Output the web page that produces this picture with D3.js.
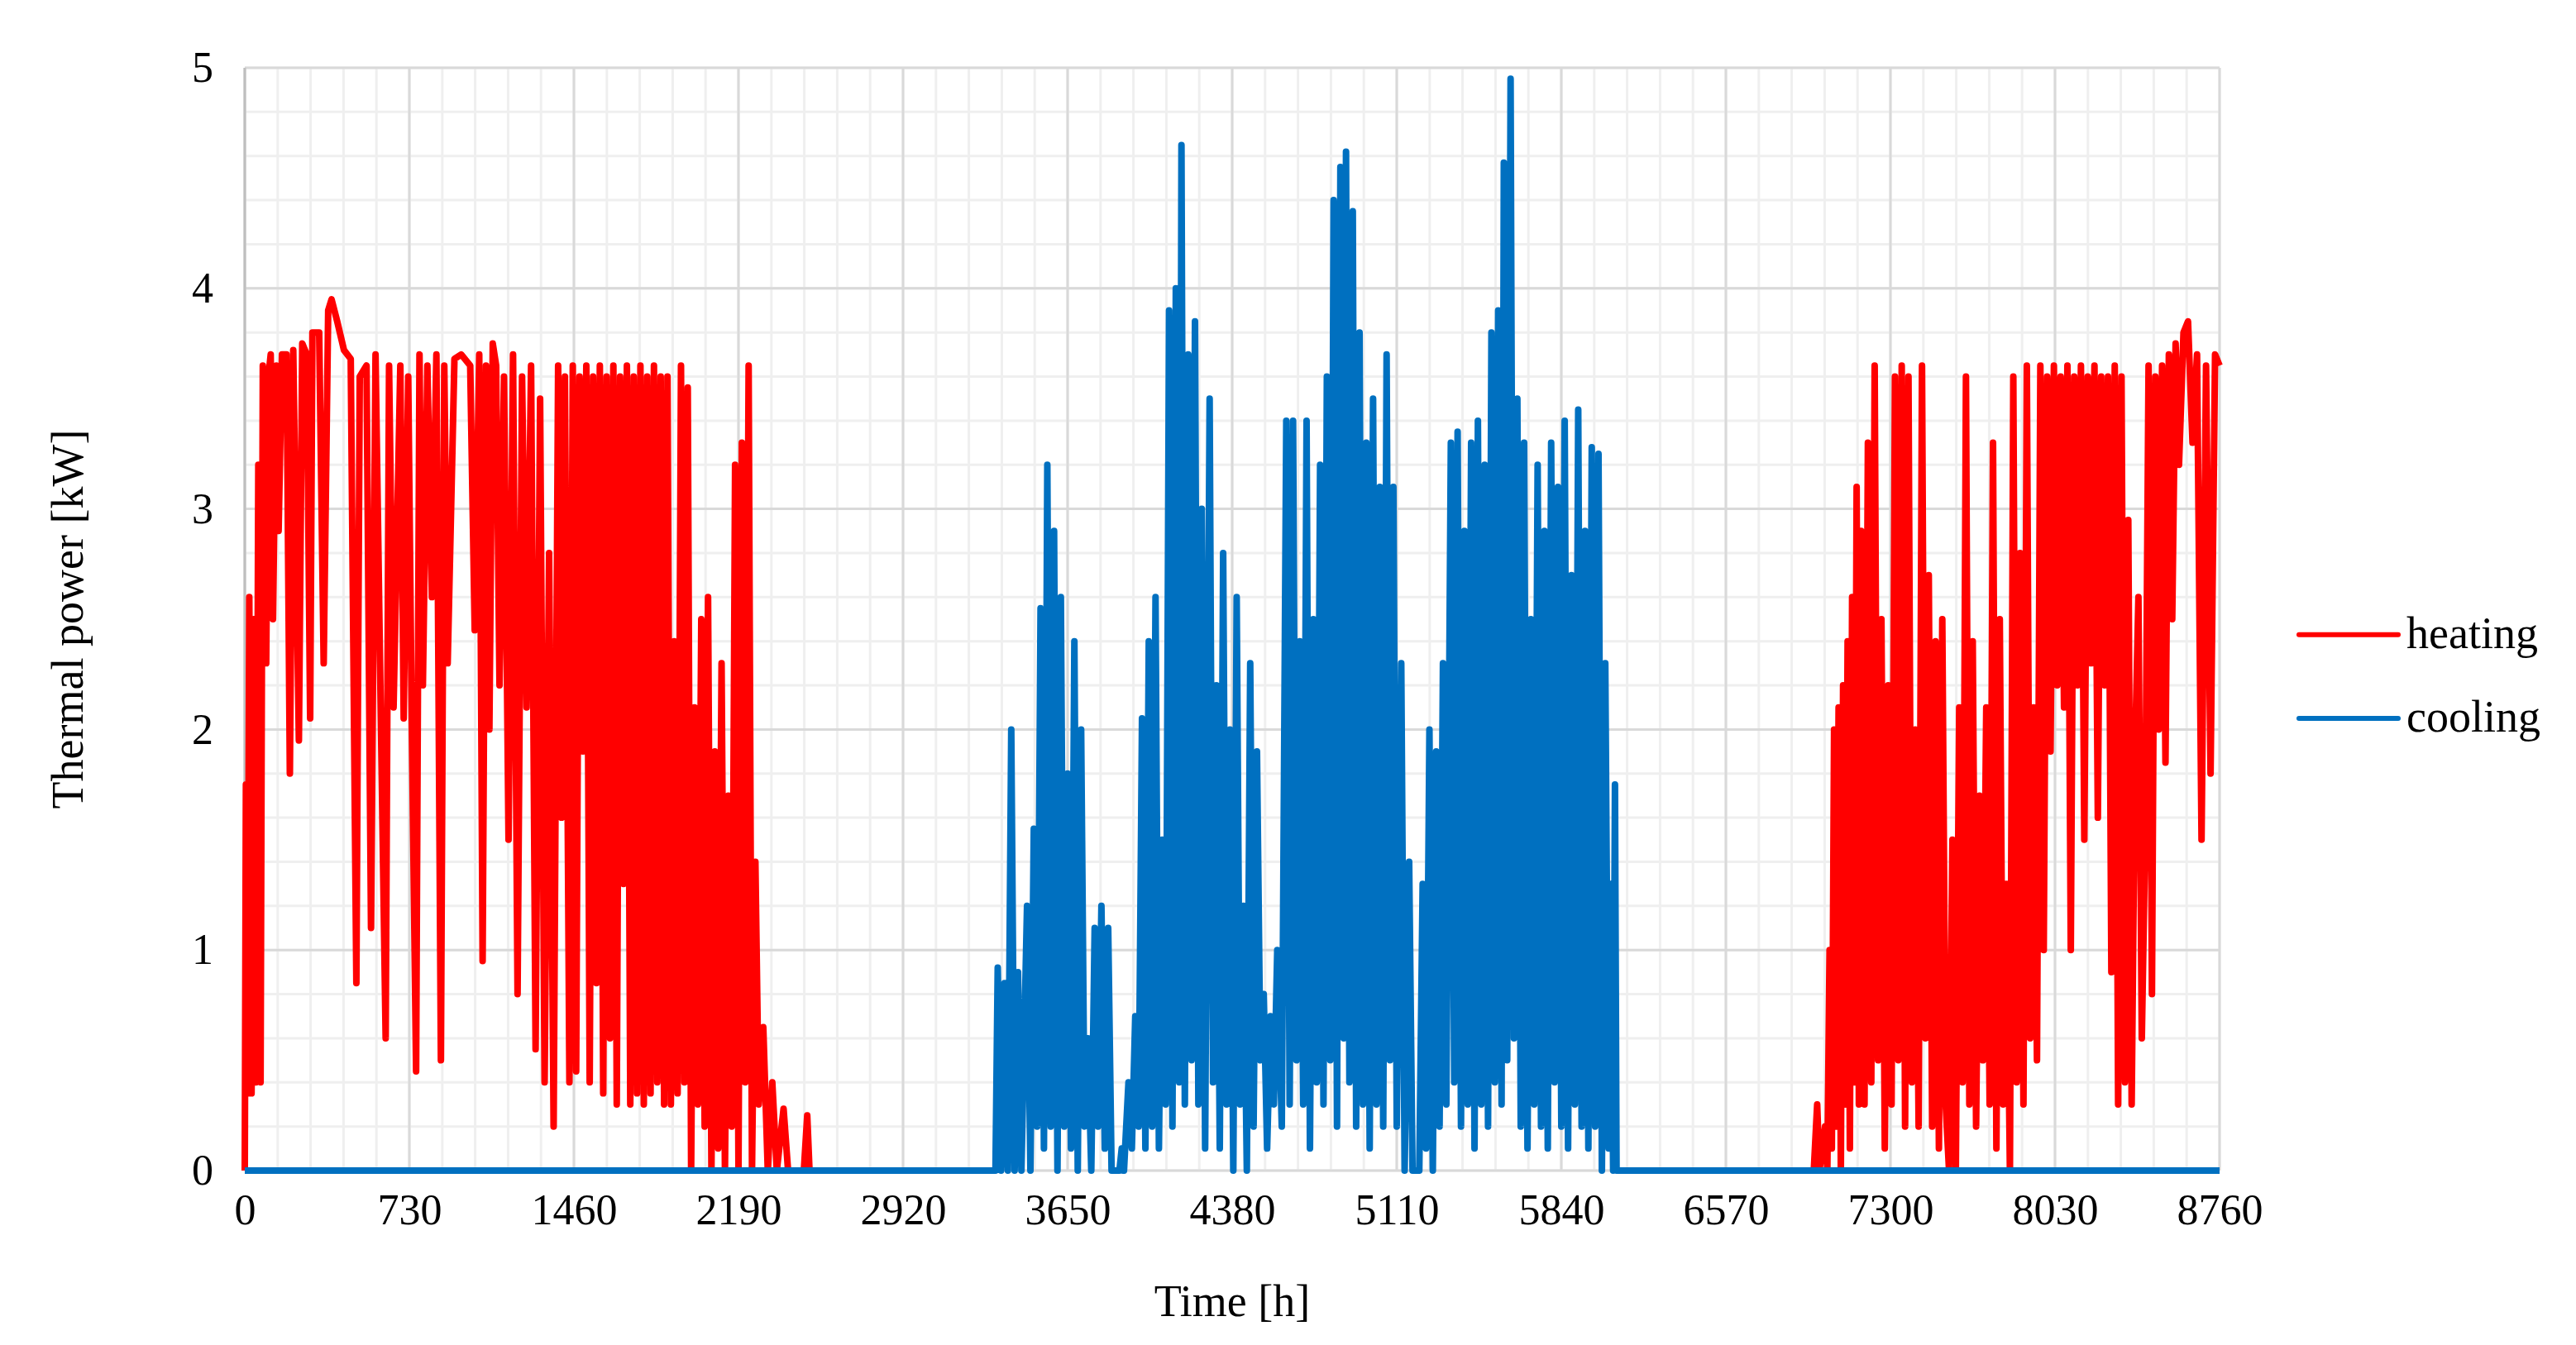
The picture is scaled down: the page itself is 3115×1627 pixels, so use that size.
<!DOCTYPE html>
<html><head><meta charset="utf-8">
<script src="https://cdn.jsdelivr.net/npm/d3@7"></script>
<style>body{margin:0;background:#fff}text{font-family:"Liberation Serif","Times New Roman",serif}</style>
</head><body><div class="chart"></div>
<script>
// [hour, kW] pairs
const heatingEarly = [[0,0],[5,1.75],[12,0.35],[20,2.6],[30,0.35],[40,2.5],[50,0.4],[60,3.2],[70,0.4],[80,3.65],[95,2.3],[105,3.6],[115,3.7],[125,2.5],[140,3.65],[150,2.9],[165,3.7],[185,3.7],[200,1.8],[215,3.72],[240,1.95],[255,3.75],[275,3.7],[290,2.05],[300,3.8],[330,3.8],[350,2.3],[370,3.9],[385,3.95],[410,3.85],[440,3.72],[470,3.68],[495,0.85],[510,3.6],[540,3.65],[560,1.1],[580,3.7],[600,2.3],[625,0.6],[640,3.65],[660,2.1],[690,3.65],[705,2.05],[725,3.6],[740,2.1],[760,0.45],[775,3.7],[790,2.2],[810,3.65],[830,2.6],[850,3.7],[870,0.5],[885,3.65],[900,2.3],[930,3.68],[960,3.7],[1000,3.65],[1020,2.45],[1040,3.7],[1055,0.95],[1070,3.65],[1085,2.0],[1100,3.75],[1115,3.65],[1130,2.2],[1150,3.6],[1170,1.5],[1190,3.7],[1210,0.8],[1230,3.6],[1250,2.1],[1270,3.65],[1290,0.55],[1310,3.5],[1330,0.4],[1350,2.8],[1370,0.2],[1390,3.65],[1405,1.6],[1420,3.6],[1440,0.4],[1455,3.65],[1470,0.45],[1485,3.6],[1500,1.9],[1515,3.65],[1530,0.4],[1545,3.6],[1560,0.85],[1575,3.65],[1590,0.35],[1605,3.6],[1620,0.6],[1635,3.65],[1650,0.3],[1665,3.6],[1680,1.3],[1695,3.65],[1710,0.3],[1725,3.6],[1740,0.35],[1755,3.65],[1770,0.3],[1785,3.6],[1800,0.35],[1815,3.65],[1830,0.4],[1845,3.6],[1860,0.3],[1875,3.6],[1890,0.3],[1905,2.4],[1920,0.35],[1935,3.65],[1950,0.4],[1965,3.55],[1980,0],[1995,2.1],[2010,0.3],[2025,2.5],[2040,0.2],[2055,2.6],[2070,0],[2085,1.9],[2100,0.1],[2115,2.3],[2130,0],[2145,1.7],[2160,0.2],[2175,3.2],[2190,0],[2205,3.3],[2220,0.4],[2235,3.65],[2250,0],[2265,1.4],[2280,0.3],[2300,0.65],[2320,0],[2340,0.4],[2360,0],[2390,0.28],[2410,0],[2480,0],[2495,0.25],[2505,0]];

const heatingLate = [[6960,0],[6975,0.3],[6985,0],[7010,0.2],[7020,0],[7030,1.0],[7040,0.1],[7050,2.0],[7060,0.2],[7070,2.1],[7080,0],[7090,2.2],[7100,0.3],[7110,2.4],[7120,0.1],[7130,2.6],[7140,0.4],[7150,3.1],[7160,0.3],[7170,2.9],[7185,0.3],[7200,3.3],[7215,0.4],[7230,3.65],[7245,0.5],[7260,2.5],[7275,0.1],[7290,2.2],[7305,0.3],[7320,3.6],[7335,0.5],[7350,3.65],[7365,0.2],[7380,3.6],[7395,0.4],[7410,2.0],[7425,0.2],[7440,3.65],[7455,0.6],[7470,2.7],[7485,0.2],[7500,2.4],[7515,0.1],[7530,2.5],[7545,0.3],[7560,0],[7575,1.5],[7590,0],[7605,2.1],[7620,0.4],[7635,3.6],[7650,0.3],[7665,2.4],[7680,0.2],[7695,1.7],[7710,0.5],[7725,2.1],[7740,0.3],[7755,3.3],[7770,0.1],[7785,2.5],[7800,0.3],[7815,1.3],[7830,0],[7845,3.6],[7860,0.4],[7875,2.8],[7890,0.3],[7905,3.65],[7920,0.6],[7935,2.1],[7950,0.5],[7965,3.65],[7980,1.0],[7995,3.6],[8010,1.9],[8025,3.65],[8040,2.2],[8055,3.6],[8070,2.1],[8085,3.65],[8100,1.0],[8115,3.6],[8130,2.2],[8145,3.65],[8160,1.5],[8175,3.6],[8190,2.3],[8205,3.65],[8220,1.6],[8235,3.6],[8250,2.2],[8265,3.6],[8280,0.9],[8295,3.65],[8310,0.3],[8325,3.6],[8340,0.4],[8355,2.95],[8370,0.3],[8385,1.9],[8400,2.6],[8415,0.6],[8430,1.5],[8445,3.65],[8460,0.8],[8475,3.6],[8490,2.0],[8505,3.65],[8520,1.85],[8535,3.7],[8550,2.5],[8565,3.75],[8580,3.2],[8600,3.8],[8620,3.85],[8640,3.3],[8660,3.7],[8680,1.5],[8700,3.65],[8720,1.8],[8740,3.7],[8760,3.65]];

const cooling = [[0,0],[3330,0],[3340,0.92],[3355,0],[3370,0.85],[3385,0],[3400,2.0],[3415,0],[3430,0.9],[3445,0],[3470,1.2],[3485,0],[3500,1.55],[3515,0.2],[3530,2.55],[3545,0.1],[3560,3.2],[3575,0.2],[3590,2.9],[3605,0],[3620,2.6],[3635,0.2],[3650,1.8],[3665,0.1],[3680,2.4],[3695,0],[3710,2.0],[3725,0.2],[3740,0.6],[3755,0],[3770,1.1],[3785,0.2],[3800,1.2],[3815,0.1],[3830,1.1],[3845,0],[3880,0],[3890,0.1],[3900,0],[3920,0.4],[3935,0.1],[3950,0.7],[3965,0.2],[3980,2.05],[3995,0.1],[4010,2.4],[4025,0.2],[4040,2.6],[4055,0.1],[4070,1.5],[4085,0.3],[4100,3.9],[4115,0.2],[4130,4.0],[4145,0.4],[4155,4.65],[4170,0.3],[4185,3.7],[4200,0.5],[4215,3.85],[4230,0.3],[4245,3.0],[4260,0.1],[4280,3.5],[4295,0.4],[4310,2.2],[4325,0.1],[4340,2.8],[4355,0.3],[4370,2.0],[4385,0],[4400,2.6],[4415,0.3],[4430,1.2],[4445,0],[4460,2.3],[4475,0.2],[4490,1.9],[4505,0.5],[4520,0.8],[4535,0.1],[4550,0.7],[4565,0.3],[4580,1.0],[4600,0.2],[4620,3.4],[4635,0.3],[4650,3.4],[4665,0.5],[4680,2.4],[4695,0.3],[4710,3.4],[4725,0.1],[4740,2.5],[4755,0.4],[4770,3.2],[4785,0.3],[4800,3.6],[4815,0.5],[4830,4.4],[4845,0.2],[4860,4.55],[4875,0.6],[4885,4.62],[4900,0.4],[4915,4.35],[4930,0.2],[4945,3.8],[4960,0.3],[4975,3.3],[4990,0.1],[5005,3.5],[5020,0.3],[5035,3.1],[5050,0.2],[5065,3.7],[5080,0.5],[5095,3.1],[5110,0.2],[5130,2.3],[5145,0],[5165,1.4],[5180,0],[5210,0],[5225,1.3],[5240,0.1],[5255,2.0],[5270,0],[5285,1.9],[5300,0.2],[5315,2.3],[5330,0.3],[5350,3.3],[5365,0.4],[5380,3.35],[5395,0.2],[5410,2.9],[5425,0.3],[5440,3.3],[5455,0.1],[5470,3.4],[5485,0.3],[5500,3.2],[5515,0.2],[5530,3.8],[5545,0.4],[5560,3.9],[5575,0.3],[5585,4.57],[5600,0.5],[5615,4.95],[5630,0.6],[5645,3.5],[5660,0.2],[5675,3.3],[5690,0.1],[5705,2.5],[5720,0.3],[5735,3.2],[5750,0.2],[5765,2.9],[5780,0.1],[5795,3.3],[5810,0.4],[5825,3.1],[5840,0.2],[5855,3.4],[5870,0.1],[5885,2.7],[5900,0.3],[5915,3.45],[5930,0.2],[5945,2.9],[5960,0.1],[5975,3.28],[5990,0.2],[6005,3.25],[6020,0],[6035,2.3],[6050,0.1],[6060,1.3],[6070,0],[6078,1.75],[6085,0],[8760,0]];

const xTicks = [0,730,1460,2190,2920,3650,4380,5110,5840,6570,7300,8030,8760];
const yTicks = [0,1,2,3,4,5];

const W = 3115, H = 1627;
const margin = {top: 82, right: 415, bottom: 211, left: 296};
const width = W - margin.left - margin.right - 16, height = H - margin.top - margin.bottom;

const svg = d3.select(".chart").append("svg").attr("width", W).attr("height", H)
  .append("g").attr("transform", "translate(" + margin.left + "," + margin.top + ")");

const x = d3.scaleLinear().domain([0, 8760]).range([0, width]);
const y = d3.scaleLinear().domain([0, 5]).range([height, 0]);

// minor grid
svg.append("g").selectAll("line").data(d3.range(0, 8760.1, 146)).join("line")
  .attr("x1", d => x(d)).attr("x2", d => x(d)).attr("y1", 0).attr("y2", height)
  .attr("stroke", "#efefef").attr("stroke-width", 3);
svg.append("g").selectAll("line").data(d3.range(0, 5.01, 0.2)).join("line")
  .attr("y1", d => y(d)).attr("y2", d => y(d)).attr("x1", 0).attr("x2", width)
  .attr("stroke", "#efefef").attr("stroke-width", 3);
// major grid
svg.append("g").selectAll("line").data(xTicks).join("line")
  .attr("x1", d => x(d)).attr("x2", d => x(d)).attr("y1", 0).attr("y2", height)
  .attr("stroke", "#d9d9d9").attr("stroke-width", 3);
svg.append("g").selectAll("line").data(yTicks).join("line")
  .attr("y1", d => y(d)).attr("y2", d => y(d)).attr("x1", 0).attr("x2", width)
  .attr("stroke", "#d9d9d9").attr("stroke-width", 3);
svg.append("line").attr("x1", 0).attr("x2", 0).attr("y1", 0).attr("y2", height)
  .attr("stroke", "#bfbfbf").attr("stroke-width", 3);

const xAxis = d3.axisBottom(x).tickValues(xTicks).tickFormat(d3.format("d")).tickSize(0).tickPadding(26);
const yAxis = d3.axisLeft(y).tickValues(yTicks).tickFormat(d3.format("d")).tickSize(0).tickPadding(38);
svg.append("g").attr("transform", "translate(0," + height + ")").call(xAxis)
  .call(g => g.select(".domain").remove())
  .selectAll("text").attr("font-size", 52).attr("fill", "#000").attr("dy", "0.75em");
svg.append("g").call(yAxis).call(g => g.select(".domain").remove())
  .selectAll("text").attr("font-size", 52).attr("fill", "#000");

const line = d3.line().x(d => x(d[0])).y(d => y(d[1])).curve(d3.curveLinear);
[heatingEarly, heatingLate].forEach(s => svg.append("path").datum(s).attr("d", line)
  .attr("fill", "none").attr("stroke", "#ff0000").attr("stroke-width", 8).attr("stroke-linejoin", "round"));
svg.append("path").datum(cooling).attr("d", line)
  .attr("fill", "none").attr("stroke", "#0070c0").attr("stroke-width", 8).attr("stroke-linejoin", "round");

svg.append("text").attr("x", width / 2).attr("y", height + 176).attr("text-anchor", "middle")
  .attr("font-size", 54).text("Time [h]");
svg.append("text").attr("transform", "translate(-196," + (height / 2) + ") rotate(-90)")
  .attr("text-anchor", "middle").attr("font-size", 54).text("Thermal power [kW]");

const legend = svg.append("g").attr("transform", "translate(" + (width + 96) + ",0)");
[["heating", "#ff0000", y(2.43)], ["cooling", "#0070c0", y(2.05)]].forEach(([t, c, yy]) => {
  legend.append("line").attr("x1", 0).attr("x2", 120).attr("y1", yy).attr("y2", yy)
    .attr("stroke", c).attr("stroke-width", 6).attr("stroke-linecap", "round");
  legend.append("text").attr("x", 130).attr("y", yy).attr("dy", "0.3em").attr("font-size", 54).text(t);
});
</script></body></html>
